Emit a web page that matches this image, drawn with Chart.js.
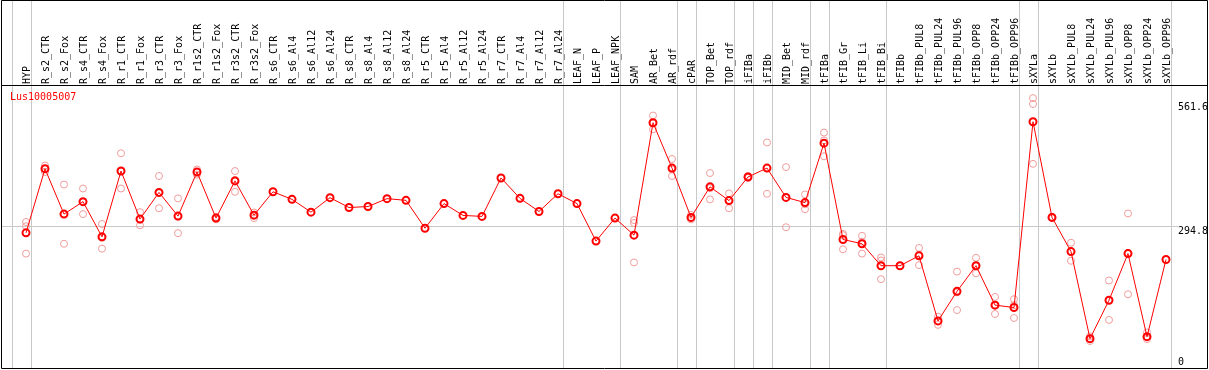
<!DOCTYPE html>
<html><head><meta charset="utf-8">
<script src="https://cdn.jsdelivr.net/npm/chart.js@4.4.1/dist/chart.umd.min.js"></script>
<style>html,body{margin:0;padding:0;background:#fff;}#wrap{width:1209px;height:370px;}</style>
</head><body><div id="wrap"><canvas id="c" width="1209" height="370"></canvas></div>
<script>
const geneId = 'Lus10005007';
const categories = ['HYP','R_s2_CTR','R_s2_Fox','R_s4_CTR','R_s4_Fox','R_r1_CTR','R_r1_Fox','R_r3_CTR','R_r3_Fox','R_r1s2_CTR','R_r1s2_Fox','R_r3s2_CTR','R_r3s2_Fox','R_s6_CTR','R_s6_Al4','R_s6_Al12','R_s6_Al24','R_s8_CTR','R_s8_Al4','R_s8_Al12','R_s8_Al24','R_r5_CTR','R_r5_Al4','R_r5_Al12','R_r5_Al24','R_r7_CTR','R_r7_Al4','R_r7_Al12','R_r7_Al24','LEAF_N','LEAF_P','LEAF_NPK','SAM','AR_Bet','AR_rdf','cPAR','TOP_Bet','TOP_rdf','iFIBa','iFIBb','MID_Bet','MID_rdf','tFIBa','tFIB_Gr','tFIB_Li','tFIB_Bi','tFIBb','tFIBb_PUL8','tFIBb_PUL24','tFIBb_PUL96','tFIBb_OPP8','tFIBb_OPP24','tFIBb_OPP96','sXYLa','sXYLb','sXYLb_PUL8','sXYLb_PUL24','sXYLb_PUL96','sXYLb_OPP8','sXYLb_OPP24','sXYLb_OPP96'];
const meanValues = [280.7,417.8,320.8,347.5,272.2,413.0,310.2,367.2,316.5,410.9,312.3,391.9,318.6,368.6,352.4,325.0,356.0,334.9,337.0,353.9,350.3,290.6,343.3,318.0,315.9,398.2,354.5,326.5,364.4,343.3,263.1,312.3,275.8,516.4,419.3,313.8,379.2,349.7,400.3,419.3,356.6,345.4,472.7,266.5,257.4,210.4,210.4,231.5,92.2,155.5,210.4,126.0,120.9,518.5,313.8,240.6,54.2,136.5,236.3,58.5,223.7];
const rep1 = [303.9,424.8,384.1,375.6,299.6,451.0,324.9,402.4,354.5,416.4,315.0,413.0,324.3,null,null,null,null,null,null,null,null,null,null,null,null,null,null,null,null,null,null,null,308.1,531.8,438.8,319.3,408.7,365.1,402.4,474.2,421.4,362.9,495.3,278.5,274.3,227.9,null,248.4,101.3,197.7,227.3,143.5,138.6,569.1,315.0,259.6,59.1,178.7,322.2,67.5,null];
const rep2 = [294.8,417.8,320.8,346.1,270.1,412.1,308.7,365.7,315.0,410.9,312.3,394.0,319.3,null,null,null,null,null,null,null,null,null,null,null,null,null,null,null,null,null,null,null,301.8,514.9,416.4,312.3,376.3,350.3,400.3,419.3,356.0,341.9,478.4,275.8,261.7,221.6,null,234.2,91.4,153.4,209.5,127.2,126.0,556.5,313.8,241.2,54.2,136.5,237.8,58.5,null];
const rep3 = [236.3,410.9,257.4,320.8,246.9,375.6,296.9,333.4,280.0,405.2,309.6,368.6,312.3,null,null,null,null,null,null,null,null,null,null,null,null,null,null,null,null,null,null,null,217.4,502.2,402.4,309.6,352.4,333.4,398.2,364.4,292.7,331.3,444.6,245.4,236.3,181.5,null,211.7,83.8,115.4,194.1,107.0,98.5,428.4,312.3,220.9,49.2,94.3,149.2,53.4,null];
const yTickValues = [561.6, 294.8, 0];
const yTickLabels = ['561.6', '294.8', '0'];
const gridValue = 294.8;
const groupBreaks = [-1,0,28,31,34,35,37,38,39,41,42,45,52,53,60];

const FONT = '10px "DejaVu Sans Mono", monospace';

const framePlugin = {
  id: 'frame',
  beforeDraw(chart) {
    const ctx = chart.ctx, xs = chart.scales.x, ys = chart.scales.y;
    ctx.save();
    ctx.strokeStyle = '#c8c8c8';
    ctx.lineWidth = 1;
    groupBreaks.forEach(i => {
      const px = Math.floor(xs.getPixelForValue(i) + 5) + 0.5;
      ctx.beginPath(); ctx.moveTo(px, 0); ctx.lineTo(px, 369); ctx.stroke();
    });
    const gy = Math.floor(ys.getPixelForValue(gridValue)) + 0.5;
    ctx.beginPath(); ctx.moveTo(2, gy); ctx.lineTo(1178, gy); ctx.stroke();
    // category labels, rotated, reading bottom to top
    ctx.font = FONT;
    ctx.fillStyle = '#000';
    ctx.textAlign = 'left';
    ctx.textBaseline = 'middle';
    categories.forEach((lab, i) => {
      const px = xs.getPixelForValue(i);
      ctx.save();
      ctx.translate(px + 1, 84);
      ctx.rotate(-Math.PI / 2);
      ctx.fillText(lab, 0, 0);
      ctx.restore();
    });
    ctx.restore();
  },
  afterDraw(chart) {
    const ctx = chart.ctx, ys = chart.scales.y;
    ctx.save();
    ctx.strokeStyle = '#000';
    ctx.lineWidth = 1;
    ctx.beginPath();
    ctx.moveTo(1.5, 0.5); ctx.lineTo(1207.5, 0.5);
    ctx.lineTo(1207.5, 368.5); ctx.lineTo(1.5, 368.5); ctx.closePath();
    ctx.moveTo(1.5, 85.5); ctx.lineTo(1207.5, 85.5);
    ctx.stroke();
    ctx.font = FONT;
    ctx.fillStyle = '#000';
    ctx.textBaseline = 'top';
    ctx.textAlign = 'left';
    yTickValues.forEach((v, k) => {
      let py = Math.round(ys.getPixelForValue(v));
      py = Math.min(py, 357);
      ctx.fillText(yTickLabels[k], 1178, py);
    });
    ctx.fillStyle = '#ff0000';
    ctx.fillText(geneId, 10, 92);
    ctx.restore();
  }
};

const repStyle = {
  showLine: false,
  pointRadius: 3.5,
  pointBorderWidth: 1,
  pointBorderColor: '#f09c9c',
  pointBackgroundColor: 'rgba(0,0,0,0)',
  borderColor: '#f09c9c'
};

new Chart(document.getElementById('c'), {
  type: 'line',
  data: {
    labels: categories,
    datasets: [
      { data: meanValues, borderColor: '#ff0000', borderWidth: 1, pointRadius: 3.5,
        pointBorderWidth: 2, pointBorderColor: '#ff0000', pointBackgroundColor: 'rgba(0,0,0,0)', tension: 0 },
      Object.assign({ data: rep1 }, repStyle),
      Object.assign({ data: rep2 }, repStyle),
      Object.assign({ data: rep3 }, repStyle)
    ]
  },
  options: {
    responsive: false,
    animation: false,
    devicePixelRatio: 1,
    layout: { padding: { left: 16.5, right: 33.5, top: 0, bottom: 2 } },
    plugins: { legend: { display: false }, tooltip: { enabled: false } },
    scales: {
      x: {
        position: 'top',
        offset: true,
        grid: { display: false, drawTicks: false },
        border: { display: false },
        ticks: { display: false, autoSkip: false },
        afterFit(scale) { scale.height = 86; }
      },
      y: { display: false, min: 0, max: 595 }
    }
  },
  plugins: [framePlugin]
});
</script>
</body></html>
